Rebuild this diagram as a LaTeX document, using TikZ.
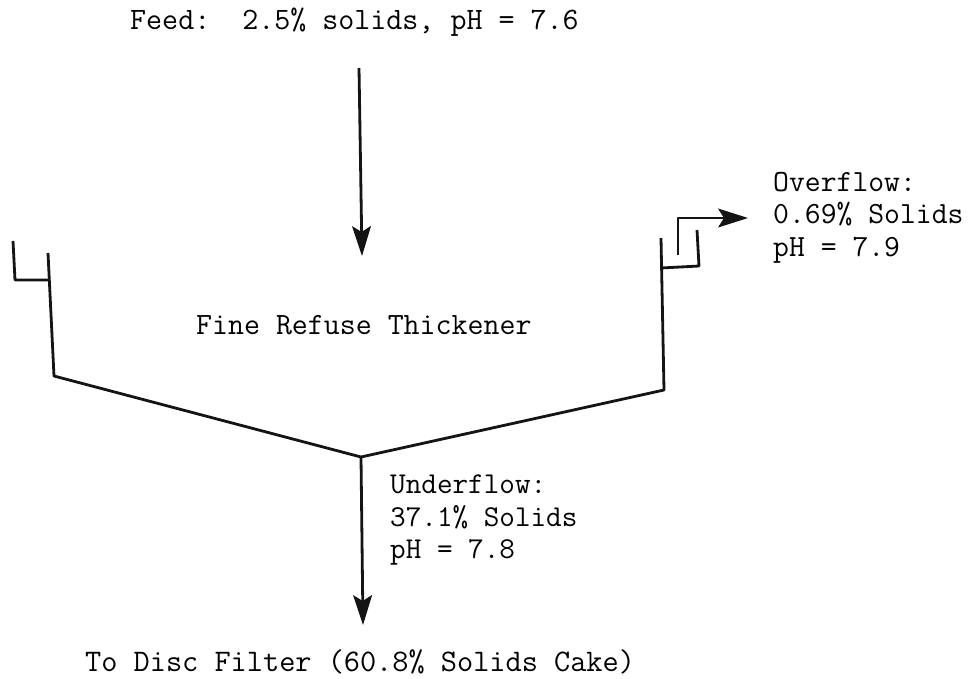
\documentclass[tikz,border=0pt]{standalone}
\usetikzlibrary{arrows.meta}
\newcommand{\lblfont}[1]{\fontsize{#1}{32.5}\selectfont\ttfamily}
\begin{document}
\begin{tikzpicture}[x=1pt,y=-1pt,
  wall/.style={line width=2.8pt,black!92,line join=round},
  flow/.style={line width=2.8pt,black!92,line join=round,-{Stealth[length=30pt,width=19pt,inset=6pt,line width=1pt]}},
  label/.style={anchor=north west,inner sep=0pt,align=left,text=black},
  single/.style={label,anchor=base west}]
\useasboundingbox (0,0) rectangle (969,678);
\node[single,font=\lblfont{31.1}] (feed) at (130,29) {Feed:\ \ 2.5\% solids, pH = 7.6};
\node[single,font=\lblfont{31}] (tank) at (196,334) {Fine Refuse Thickener};
\node[label,font=\lblfont{30.8}] (over) at (773,172) {Overflow:\\0.69\% Solids\\pH = 7.9};
\node[label,font=\lblfont{30.3}] (under) at (390,475) {Underflow:\\37.1\% Solids\\pH = 7.8};
\node[single,font=\lblfont{31.4}] (disc) at (85,671) {To Disc Filter (60.8\% Solids Cake)};
\coordinate (fs) at (359,68);
\coordinate (ft) at (362,256);
\coordinate (a) at (13,241);
\coordinate (b) at (15,280);
\coordinate (c) at (49,280);
\coordinate (d) at (48,253);
\coordinate (e) at (54,376);
\coordinate (apex) at (361,457);
\coordinate (f) at (664,390);
\coordinate (g) at (661,238);
\coordinate (h) at (661,268);
\coordinate (i) at (699,266);
\coordinate (j) at (697,230);
\coordinate (k) at (678,255);
\coordinate (l) at (678,218);
\coordinate (m) at (748,218);
\coordinate (n) at (363,625);
\draw[flow] (fs) -- (ft);
\draw[wall] (a) -- (b) -- (c);
\draw[wall] (d) -- (e) -- (apex) -- (f) -- (g);
\draw[wall] (h) -- (i) -- (j);
\draw[flow] (k) -- (l) -- (m);
\draw[flow] (apex) -- (n);
\end{tikzpicture}
\end{document}
